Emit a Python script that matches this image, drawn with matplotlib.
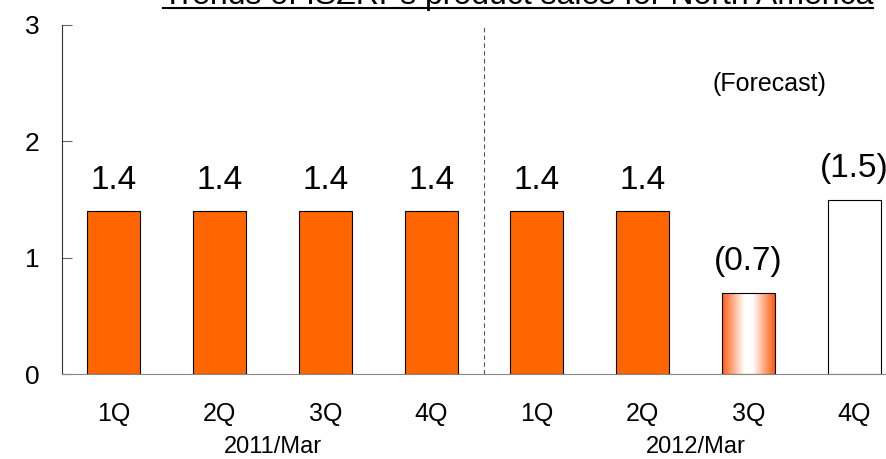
import matplotlib
matplotlib.use("Agg")
import matplotlib.pyplot as plt
import numpy as np
from matplotlib.colors import LinearSegmentedColormap
from matplotlib.lines import Line2D

plt.rcParams['font.family'] = ['Liberation Sans', 'DejaVu Sans']

# data
quarters = ["1Q", "2Q", "3Q", "4Q", "1Q", "2Q", "3Q", "4Q"]
years = ["2011/Mar", "2012/Mar"]
values = [1.4, 1.4, 1.4, 1.4, 1.4, 1.4, 0.7, 1.5]
value_labels = ["1.4", "1.4", "1.4", "1.4", "1.4", "1.4", "(0.7)", "(1.5)"]
bar_styles = ["solid", "solid", "solid", "solid", "solid", "solid", "gradient", "empty"]
title = "Trends of ISZRPs product sales for North America"

orange = "#FF6600"

fig = plt.figure(figsize=(8.86, 4.59), dpi=100)
ax = fig.add_axes([62 / 886, 85 / 459, 1 - 62 / 886, 349 / 459])

x = np.arange(len(values))
width = 0.5
colors = [orange if s == "solid" else "white" for s in bar_styles]
bars = ax.bar(x, values, width=width, color=colors, edgecolor="black", linewidth=0.8, zorder=2)

# gradient fill: orange at the sides, white in the middle
grad_cmap = LinearSegmentedColormap.from_list(
    "og", [(0, "#FF5A10"), (0.42, "white"), (0.58, "white"), (1, "#FF5A10")])
for b, s in zip(bars, bar_styles):
    if s == "gradient":
        b.set_facecolor("none")
        x0, y0 = b.get_x(), b.get_y()
        w, h = b.get_width(), b.get_height()
        grad = np.linspace(0, 1, 256).reshape(1, -1)
        im = ax.imshow(grad, cmap=grad_cmap, extent=[x0, x0 + w, y0, y0 + h],
                       aspect="auto", zorder=1, interpolation="bicubic")
        im.set_clip_path(b)

for xi, v, lab in zip(x, values, value_labels):
    ax.text(xi, v + 0.265, lab, ha="center", va="center", fontsize=24)

ax.text(6.2, 2.49, "(Forecast)", ha="center", va="center", fontsize=18)

ax.axvline(3.5, color="#555555", linestyle=(0, (4, 3)), linewidth=0.8)

ax.set_xlim(-0.49, 7.3)
ax.set_ylim(0, 3)
ax.set_yticks([0, 1, 2, 3])
ax.tick_params(axis="y", labelsize=19, length=7, direction="in", color="#666666", pad=16)
ax.set_xticks(x)
ax.set_xticklabels(quarters, fontsize=18)
ax.tick_params(axis="x", length=0, pad=20)

for i, yr in enumerate(years):
    ax.text(1.5 + 4 * i, -0.21, yr, transform=ax.get_xaxis_transform(),
            ha="center", va="center", fontsize=17)

ax.spines["top"].set_visible(False)
ax.spines["right"].set_visible(False)
ax.spines["bottom"].set_color("#888888")
ax.spines["left"].set_color("#333333")

# title clipped at the top edge, as in the source image
fig.text(518 / 886, 1 - 4 / 459, title, ha="center", va="baseline", fontsize=23)
fig.add_artist(Line2D([163 / 886, 873 / 886], [1 - 8 / 459, 1 - 8 / 459],
                      transform=fig.transFigure, color="black", linewidth=1.5))

fig.savefig("out.png", dpi=100)
